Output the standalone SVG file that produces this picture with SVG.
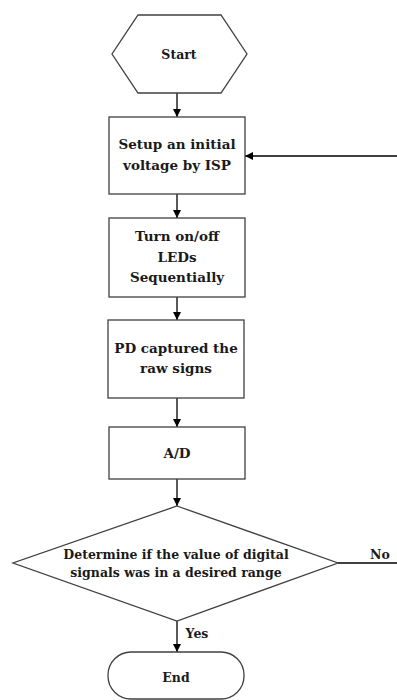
<svg xmlns="http://www.w3.org/2000/svg" width="397" height="700" viewBox="0 0 397 700">
<style>
.shape{fill:#fff;stroke:#404040;stroke-width:1.3}
.t{font-family:"DejaVu Serif","Liberation Serif",serif;font-weight:bold;font-size:13.5px;fill:#1a1a1a;text-anchor:middle;dominant-baseline:central}
.s{font-size:12.5px}
.c{stroke:#000;stroke-width:1.3;fill:none}
</style>
<defs>
<marker id="ah" viewBox="0 0 10 10" refX="10" refY="5" markerWidth="8" markerHeight="8" markerUnits="userSpaceOnUse" orient="auto">
<path d="M0,0 L10,5 L0,10 z" fill="#000"/>
</marker>
</defs>
<g id="connectors">
<line class="c" x1="177" y1="93" x2="177" y2="117" marker-end="url(#ah)"/>
<line class="c" x1="177" y1="194" x2="177" y2="218" marker-end="url(#ah)"/>
<line class="c" x1="177" y1="297" x2="177" y2="320" marker-end="url(#ah)"/>
<line class="c" x1="177" y1="398" x2="177" y2="427" marker-end="url(#ah)"/>
<line class="c" x1="177" y1="479" x2="177" y2="506" marker-end="url(#ah)"/>
<line class="c" x1="177" y1="621" x2="177" y2="652" marker-end="url(#ah)"/>
<line class="c" x1="338" y1="563" x2="397" y2="563"/>
<line class="c" x1="397" y1="156" x2="245" y2="156" marker-end="url(#ah)"/>
<text class="t s" x="380" y="554">No</text>
<text class="t s" x="197" y="633">Yes</text>
</g>
<g id="start">
<polygon class="shape" points="138,15 221,15 247,54 221,93 138,93 112,54"/>
<text class="t s" x="179" y="54">Start</text>
</g>
<g id="setup">
<rect class="shape" x="109" y="117" width="136" height="77"/>
<text class="t" x="177" y="144">Setup an initial</text>
<text class="t" x="177" y="165">voltage by ISP</text>
</g>
<g id="turn">
<rect class="shape" x="109" y="218" width="136" height="79"/>
<text class="t" x="177" y="236">Turn on/off</text>
<text class="t" x="177" y="257">LEDs</text>
<text class="t" x="177" y="277">Sequentially</text>
</g>
<g id="pd">
<rect class="shape" x="108" y="320" width="136" height="78"/>
<text class="t" x="176" y="348">PD captured the</text>
<text class="t" x="176" y="368">raw signs</text>
</g>
<g id="ad">
<rect class="shape" x="109" y="427" width="136" height="52"/>
<text class="t" x="177" y="453">A/D</text>
</g>
<g id="decision">
<polygon class="shape" points="177,506 338,563 177,621 13,563"/>
<text class="t s" x="176" y="554">Determine if the value of digital</text>
<text class="t s" x="176" y="572">signals was in a desired range</text>
</g>
<g id="end">
<rect class="shape" x="108" y="652" width="136" height="47" rx="23" ry="23"/>
<text class="t s" x="176" y="677">End</text>
</g>
</svg>
